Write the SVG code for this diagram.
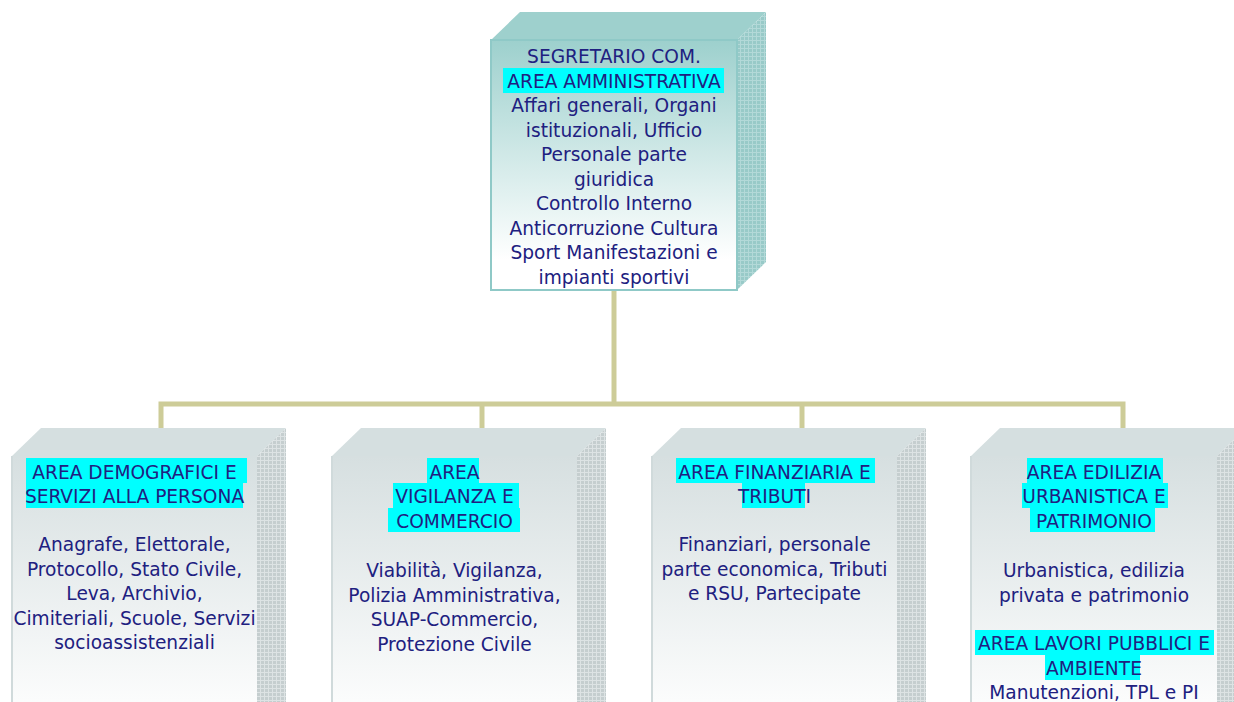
<svg xmlns="http://www.w3.org/2000/svg" width="1234" height="702" viewBox="0 0 1234 702">
<style>
text{font-family:"DejaVu Sans","Liberation Sans",sans-serif;font-size:18.6px;fill:#202080;text-anchor:middle}
.hl{fill:#00ffff}
.conn{stroke:#cdcc98;stroke-width:5;fill:none}
</style>
<defs>
<linearGradient id="gTop" x1="0" y1="0" x2="0" y2="1">
<stop offset="0" stop-color="#9dd0cd"/>
<stop offset="0.88" stop-color="#ffffff"/>
<stop offset="1" stop-color="#ffffff"/>
</linearGradient>
<linearGradient id="gGrey" x1="0" y1="0" x2="0" y2="1">
<stop offset="0" stop-color="#d6dfe0"/>
<stop offset="1" stop-color="#ffffff"/>
</linearGradient>
<pattern id="pTeal" width="4" height="4" patternUnits="userSpaceOnUse">
<rect width="4" height="4" fill="#98cac8"/>
<path d="M0 0.5H4M0.5 0V4" stroke="#b3d9d8" stroke-width="1"/>
</pattern>
<pattern id="pGrey" width="4" height="4" patternUnits="userSpaceOnUse">
<rect width="4" height="4" fill="#c5cecf"/>
<path d="M0 0.5H4M0.5 0V4" stroke="#dde3e4" stroke-width="1"/>
</pattern>
</defs>

<g id="connectors">
<path class="conn" d="M614 290V404"/>
<path class="conn" d="M161 430V404H1123V430"/>
<path class="conn" d="M482 404V430"/>
<path class="conn" d="M802 404V430"/>
</g>

<g id="node-segretario">
<polygon points="491,40 520,12 766,12 737,40" fill="#9ed0cd"/>
<polygon points="737,40 766,12 766,262 737,290" fill="url(#pTeal)"/>
<rect x="491" y="40" width="246" height="250" fill="url(#gTop)" stroke="#8fc9c7" stroke-width="2"/>
<rect class="hl" x="503" y="68" width="221" height="25"/>
<text x="614" y="63">SEGRETARIO COM.</text>
<text x="614" y="87.5">AREA AMMINISTRATIVA</text>
<text x="614" y="112">Affari generali, Organi</text>
<text x="614" y="136.5">istituzionali, Ufficio</text>
<text x="614" y="161">Personale parte</text>
<text x="614" y="185.5">giuridica</text>
<text x="614" y="210">Controllo Interno</text>
<text x="614" y="234.5">Anticorruzione Cultura</text>
<text x="614" y="259">Sport Manifestazioni e</text>
<text x="614" y="283.5">impianti sportivi</text>
</g>

<g id="node-demografici">
<polygon points="12,456 41,428 286,428 257,456" fill="#d5dfe0"/>
<polygon points="257,456 286,428 286,720 257,720" fill="url(#pGrey)"/>
<rect x="12" y="456" width="245" height="270" fill="url(#gGrey)"/>
<path d="M12 456V702" stroke="#d0dadb" stroke-width="2"/>
<rect class="hl" x="26" y="458" width="221" height="25"/>
<rect class="hl" x="26" y="483" width="217" height="25"/>
<text x="134.5" y="479">AREA DEMOGRAFICI E</text>
<text x="134.5" y="503">SERVIZI ALLA PERSONA</text>
<text x="134.5" y="551">Anagrafe, Elettorale,</text>
<text x="134.5" y="575.5">Protocollo, Stato Civile,</text>
<text x="134.5" y="600">Leva, Archivio,</text>
<text x="134.5" y="624.5">Cimiteriali, Scuole, Servizi</text>
<text x="134.5" y="649">socioassistenziali</text>
</g>

<g id="node-vigilanza">
<polygon points="332,456 361,428 606,428 577,456" fill="#d5dfe0"/>
<polygon points="577,456 606,428 606,720 577,720" fill="url(#pGrey)"/>
<rect x="332" y="456" width="245" height="270" fill="url(#gGrey)"/>
<path d="M332 456V702" stroke="#d0dadb" stroke-width="2"/>
<rect class="hl" x="427" y="458" width="52" height="25"/>
<rect class="hl" x="393" y="483" width="126" height="25"/>
<rect class="hl" x="388" y="508" width="132" height="24"/>
<text x="454.5" y="479">AREA</text>
<text x="454.5" y="503">VIGILANZA E</text>
<text x="454.5" y="528">COMMERCIO</text>
<text x="454.5" y="577">Viabilità, Vigilanza,</text>
<text x="454.5" y="601.5">Polizia Amministrativa,</text>
<text x="454.5" y="626">SUAP-Commercio,</text>
<text x="454.5" y="650.5">Protezione Civile</text>
</g>

<g id="node-finanziaria">
<polygon points="652,456 681,428 926,428 897,456" fill="#d5dfe0"/>
<polygon points="897,456 926,428 926,720 897,720" fill="url(#pGrey)"/>
<rect x="652" y="456" width="245" height="270" fill="url(#gGrey)"/>
<path d="M652 456V702" stroke="#d0dadb" stroke-width="2"/>
<rect class="hl" x="676" y="458" width="199" height="25"/>
<rect class="hl" x="742" y="483" width="63" height="25"/>
<text x="774.5" y="479">AREA FINANZIARIA E</text>
<text x="774.5" y="503">TRIBUTI</text>
<text x="774.5" y="551">Finanziari, personale</text>
<text x="774.5" y="575.5">parte economica, Tributi</text>
<text x="774.5" y="600">e RSU, Partecipate</text>
</g>

<g id="node-edilizia">
<polygon points="971,456 1000,428 1246,428 1217,456" fill="#d5dfe0"/>
<polygon points="1217,456 1246,428 1246,720 1217,720" fill="url(#pGrey)"/>
<rect x="971" y="456" width="246" height="270" fill="url(#gGrey)"/>
<path d="M971 456V702" stroke="#d0dadb" stroke-width="2"/>
<rect class="hl" x="1027" y="458" width="136" height="25"/>
<rect class="hl" x="1022" y="483" width="146" height="25"/>
<rect class="hl" x="1030" y="508" width="125" height="24"/>
<text x="1094" y="479">AREA EDILIZIA</text>
<text x="1094" y="503">URBANISTICA E</text>
<text x="1094" y="528">PATRIMONIO</text>
<text x="1094" y="577">Urbanistica, edilizia</text>
<text x="1094" y="601.5">privata e patrimonio</text>
<rect class="hl" x="975" y="630" width="239" height="25"/>
<rect class="hl" x="1045" y="655" width="95" height="25"/>
<text x="1094" y="650">AREA LAVORI PUBBLICI E</text>
<text x="1094" y="674.5">AMBIENTE</text>
<text x="1094" y="699">Manutenzioni, TPL e PI</text>
</g>
</svg>
